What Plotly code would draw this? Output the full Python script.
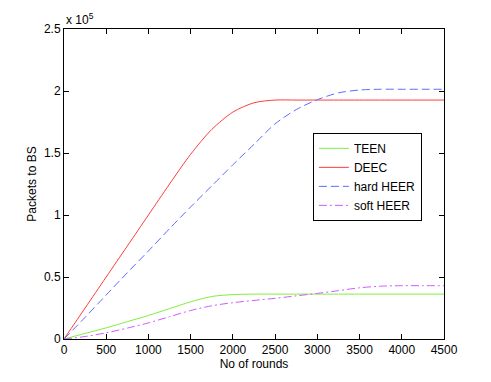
import plotly.graph_objects as go

# rounds and packets delivered to the base station
rounds = [0, 250, 500, 750, 1000, 1250, 1500, 1750, 2000, 2250, 2500,
          2750, 3000, 3250, 3500, 3750, 4000, 4250, 4500]
teen = [0, 4500, 9000, 14000, 19000, 24500, 30000, 34300, 35800, 36200, 36200,
        36200, 36200, 36200, 36200, 36200, 36200, 36200, 36200]
deec = [0, 25000, 50000, 75000, 100000, 125000, 149000, 169000, 183000, 190500, 192700,
        192700, 192700, 192700, 192700, 192700, 192700, 192700, 192700]
hard_heer = [0, 17500, 35500, 53500, 71000, 89000, 106500, 123500, 140500, 157000, 173500,
             185000, 193000, 198500, 200800, 201400, 201400, 201400, 201400]
soft_heer = [0, 2000, 5000, 8800, 13000, 18000, 23000, 26800, 29300, 31100, 32800,
             34800, 36800, 39000, 41300, 42600, 43000, 43000, 43000]

y_ticks = [0, 50000, 100000, 150000, 200000, 250000]
y_tick_labels = ["0", "0.5", "1", "1.5", "2", "2.5"]
x_ticks = [0, 500, 1000, 1500, 2000, 2500, 3000, 3500, 4000, 4500]

fig = go.Figure()
fig.add_trace(go.Scatter(x=rounds, y=teen, name="TEEN", mode="lines",
                         line=dict(color="#7ff03c", width=1, shape="spline", smoothing=0.8)))
fig.add_trace(go.Scatter(x=rounds, y=deec, name="DEEC", mode="lines",
                         line=dict(color="#ff3c3c", width=1, shape="spline", smoothing=0.8)))
fig.add_trace(go.Scatter(x=rounds, y=hard_heer, name="hard HEER", mode="lines",
                         line=dict(color="#5a6cff", width=1, dash="8px,4px",
                                   shape="spline", smoothing=0.8)))
fig.add_trace(go.Scatter(x=rounds, y=soft_heer, name="soft HEER", mode="lines",
                         line=dict(color="#cc5cff", width=1, dash="8px,3px,2px,3px",
                                   shape="spline", smoothing=0.8)))

axis_style = dict(showline=True, linecolor="black", linewidth=1, mirror="ticks",
                  ticks="inside", ticklen=5, tickcolor="black", showgrid=False,
                  zeroline=False, tickfont=dict(size=12, color="black"))

fig.update_xaxes(range=[0, 4500], tickvals=x_ticks,
                 title=dict(text="No of rounds", font=dict(size=12, color="black"), standoff=0),
                 **axis_style)
fig.update_yaxes(range=[0, 250000], tickvals=y_ticks, ticktext=y_tick_labels,
                 title=dict(text="Packets to BS", font=dict(size=12, color="black"), standoff=4),
                 **axis_style)

fig.add_annotation(x=0, y=1, xref="paper", yref="paper", xanchor="left", yanchor="bottom",
                   text="x 10<sup>5</sup>", showarrow=False, yshift=0,
                   font=dict(size=12, color="black"))

# the page adds an 8px body margin, so the figure is 8px smaller than the window
fig.update_layout(
    width=483, height=374,
    margin=dict(l=56, r=47, t=21, b=43),
    paper_bgcolor="white", plot_bgcolor="white",
    font=dict(family="Liberation Sans, Arial, sans-serif", size=12, color="black"),
    legend=dict(x=0.655, y=0.665, xanchor="left", yanchor="top",
                bordercolor="black", borderwidth=1, bgcolor="white",
                font=dict(size=12), tracegroupgap=0, itemwidth=30),
    showlegend=True,
)

fig.write_html("out.html")
